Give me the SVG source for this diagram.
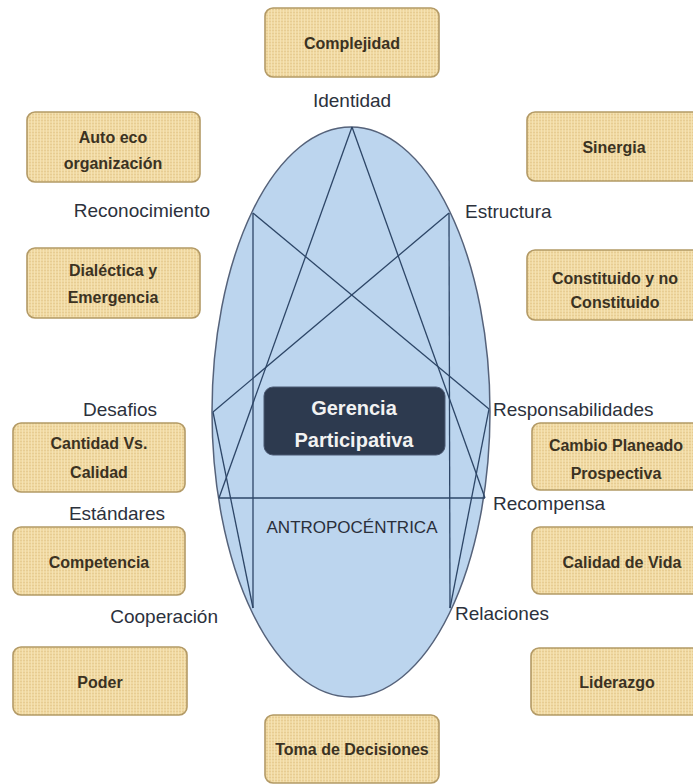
<svg xmlns="http://www.w3.org/2000/svg" width="693" height="784" viewBox="0 0 693 784">
<defs>
<pattern id="papyrus" width="6" height="6" patternUnits="userSpaceOnUse">
<rect width="6" height="6" fill="#f0d9a2"/>
<path d="M0 0.5H6M0 3.5H6" stroke="#e4c98e" stroke-width="0.8"/>
<path d="M1.5 0V6M4.5 0V6" stroke="#f6e4b8" stroke-width="0.8"/>
</pattern>
<style>
.box{fill:url(#papyrus);stroke:#b39a66;stroke-width:1.6}
.bt{font-family:"Liberation Sans",Arial,sans-serif;font-weight:bold;font-size:16px;fill:#3b3222;text-anchor:middle}
.lbl{font-family:"Liberation Sans",Arial,sans-serif;font-size:19px;fill:#2c313c}
.ln{stroke:#2d4667;stroke-width:1.3;fill:none}
</style>
</defs>
<rect width="693" height="784" fill="#ffffff"/>

<g id="ellipse">
<ellipse cx="351" cy="412" rx="139" ry="285" fill="#bcd5ee" stroke="#55627a" stroke-width="1.5"/>
</g>

<g id="connectors">
<line class="ln" x1="352" y1="127" x2="219" y2="498"/>
<line class="ln" x1="352" y1="127" x2="485" y2="498"/>
<line class="ln" x1="253" y1="213" x2="489" y2="409"/>
<line class="ln" x1="449" y1="213" x2="213" y2="412"/>
<line class="ln" x1="253" y1="213" x2="253" y2="608"/>
<line class="ln" x1="449" y1="213" x2="450" y2="608"/>
<line class="ln" x1="213" y1="412" x2="253" y2="608"/>
<line class="ln" x1="489" y1="409" x2="450" y2="608"/>
<line class="ln" x1="219" y1="498" x2="485" y2="498"/>
</g>

<g id="center">
<rect x="264" y="387" width="181" height="68" rx="9" fill="#2d3a4f" stroke="#4a5872" stroke-width="1"/>
<text x="354" y="415" font-family="Liberation Sans,Arial,sans-serif" font-size="20" font-weight="bold" fill="#f2f2f2" text-anchor="middle">Gerencia</text>
<text x="354" y="447" font-family="Liberation Sans,Arial,sans-serif" font-size="20" font-weight="bold" fill="#f2f2f2" text-anchor="middle">Participativa</text>
</g>

<g id="antropocentrica">
<text x="352" y="533" font-family="Liberation Sans,Arial,sans-serif" font-size="17" fill="#2a2f3a" text-anchor="middle">ANTROPOCÉNTRICA</text>
</g>

<g id="labels">
<text class="lbl" x="352" y="107" text-anchor="middle">Identidad</text>
<text class="lbl" x="210" y="217" text-anchor="end">Reconocimiento</text>
<text class="lbl" x="465" y="218">Estructura</text>
<text class="lbl" x="157" y="416" text-anchor="end">Desafios</text>
<text class="lbl" x="493" y="416">Responsabilidades</text>
<text class="lbl" x="165" y="520" text-anchor="end">Estándares</text>
<text class="lbl" x="493" y="510">Recompensa</text>
<text class="lbl" x="218" y="623" text-anchor="end">Cooperación</text>
<text class="lbl" x="455" y="620">Relaciones</text>
</g>

<g id="complejidad">
<rect class="box" x="265" y="8" width="174" height="69" rx="8"/>
<text class="bt" x="352" y="49">Complejidad</text>
</g>
<g id="auto-eco">
<rect class="box" x="27" y="112" width="173" height="70" rx="8"/>
<text class="bt" x="113" y="143">Auto eco</text>
<text class="bt" x="113" y="169">organización</text>
</g>
<g id="sinergia">
<rect class="box" x="527" y="112" width="174" height="69" rx="8"/>
<text class="bt" x="614" y="153">Sinergia</text>
</g>
<g id="dialectica">
<rect class="box" x="27" y="248" width="173" height="70" rx="8"/>
<text class="bt" x="113" y="276">Dialéctica y</text>
<text class="bt" x="113" y="303">Emergencia</text>
</g>
<g id="constituido">
<rect class="box" x="527" y="250" width="174" height="70" rx="8"/>
<text class="bt" x="615" y="284">Constituido y no</text>
<text class="bt" x="615" y="308">Constituido</text>
</g>
<g id="cantidad">
<rect class="box" x="13" y="423" width="172" height="69" rx="8"/>
<text class="bt" x="99" y="449">Cantidad Vs.</text>
<text class="bt" x="99" y="478">Calidad</text>
</g>
<g id="cambio">
<rect class="box" x="532" y="423" width="170" height="67" rx="8"/>
<text class="bt" x="616" y="451">Cambio Planeado</text>
<text class="bt" x="616" y="479">Prospectiva</text>
</g>
<g id="competencia">
<rect class="box" x="13" y="527" width="172" height="68" rx="8"/>
<text class="bt" x="99" y="568">Competencia</text>
</g>
<g id="calidad-vida">
<rect class="box" x="532" y="527" width="170" height="67" rx="8"/>
<text class="bt" x="622" y="568">Calidad de Vida</text>
</g>
<g id="poder">
<rect class="box" x="13" y="647" width="174" height="68" rx="8"/>
<text class="bt" x="100" y="688">Poder</text>
</g>
<g id="liderazgo">
<rect class="box" x="531" y="648" width="172" height="67" rx="8"/>
<text class="bt" x="617" y="688">Liderazgo</text>
</g>
<g id="toma">
<rect class="box" x="265" y="715" width="174" height="68" rx="8"/>
<text class="bt" x="352" y="755">Toma de Decisiones</text>
</g>
</svg>
